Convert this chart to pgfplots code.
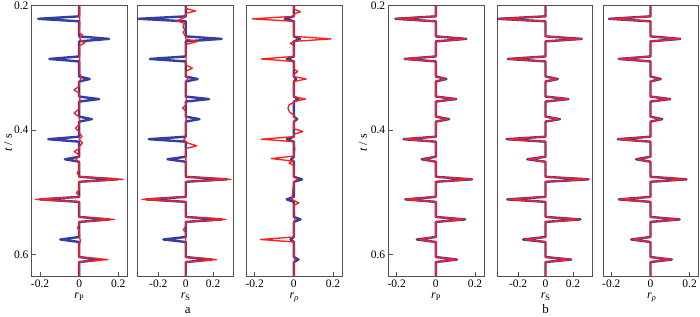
\documentclass[border=0pt]{standalone}
\usepackage{fontspec}
\setmainfont{Liberation Serif}
\usepackage{pgfplots}
\pgfplotsset{compat=1.18}
\definecolor{framegray}{RGB}{80,80,80}
\definecolor{tblue}{RGB}{52,62,160}
\definecolor{ired}{RGB}{255,30,30}
\pgfplotsset{
  panel/.style={scale only axis, width=95.5bp, height=270.7bp, anchor=north west,
    y dir=reverse, ymin=0.2, ymax=0.6345,
    axis line style={draw=framegray, line width=1bp},
    tick align=inside, xtick pos=bottom, ytick pos=left,
    major tick length=4bp, tick style={draw=framegray, line width=0.8bp},
    xtick={-0.2,0,0.2}, xticklabels={-0.2,0,0.2}, ytick=\empty,
    ticklabel style={font=\fontsize{11.5bp}{13bp}\selectfont},
    xticklabel style={yshift=-0.5bp}},
  prr/.style={xmin=-0.241, xmax=0.247},
  ss/.style={xmin=-0.352, xmax=0.345},
  yt/.style={ytick={0.2,0.4,0.6}, yticklabels={0.2,0.4,0.6}},
  trueline/.style={draw=tblue, line width=2.4bp, line join=round, no marks},
  invline/.style={draw=ired, line width=1.35bp, line join=round, no marks},
}
\begin{document}
\begin{tikzpicture}
\useasboundingbox (0,0) rectangle (700bp,-317bp);
% ---------------- group a ----------------
\begin{axis}[panel, prr, yt, at={(32bp,-5.3bp)}]
\addplot[trueline] coordinates {(0,0.2) (0,0.2177) (-0.209,0.2217) (0,0.2257) (0,0.2499) (0.153,0.2539) (0,0.2579) (0,0.2821) (-0.152,0.2861) (0,0.2901) (0,0.3143) (0.054,0.3183) (0,0.3223) (0,0.3465) (0.102,0.3505) (0,0.3545) (0,0.3787) (0.065,0.3827) (0,0.3867) (0,0.4109) (-0.158,0.4149) (0,0.4189) (0,0.4431) (-0.073,0.4471) (0,0.4511) (0,0.4753) (0.195,0.4793) (0,0.4833) (0,0.5075) (-0.200,0.5115) (0,0.5155) (0,0.5397) (0.155,0.5437) (0,0.5477) (0,0.5719) (-0.096,0.5759) (0,0.5799) (0,0.6041) (0.110,0.6081) (0,0.6121) (0,0.6345)};
\addplot[invline] coordinates {(0.002,0.200) (0.003,0.230) (0.000,0.244) (0.017,0.2476) (0.002,0.252) (0.008,0.256) (0.029,0.260) (0.002,0.265) (0.003,0.310) (0.012,0.316) (0.001,0.322) (0.000,0.330) (-0.026,0.3357) (0.000,0.341) (0.004,0.350) (0.000,0.366) (-0.026,0.373) (0.000,0.379) (0.003,0.385) (0.000,0.392) (-0.019,0.397) (0.000,0.403) (0.003,0.406) (0.015,0.4105) (0.000,0.415) (0.017,0.421) (0.000,0.427) (0.000,0.430) (-0.026,0.4346) (0.000,0.440) (-0.017,0.448) (0.000,0.453) (0.000,0.464) (-0.010,0.469) (0.000,0.474) (0,0.4753) (0.225,0.4793) (0,0.4833) (0.000,0.496) (-0.014,0.501) (0.000,0.506) (0,0.5075) (-0.222,0.5115) (0,0.5155) (0.002,0.530) (0,0.5397) (0.180,0.5437) (0,0.5477) (0,0.552) (-0.008,0.557) (0,0.562) (0.003,0.573) (0.006,0.578) (0.000,0.585) (0,0.6041) (0.147,0.6081) (0,0.6121) (0.002,0.6345)};
\end{axis}
\begin{axis}[panel, ss, at={(137.5bp,-5.3bp)}]
\addplot[trueline] coordinates {(0,0.2) (0,0.2177) (-0.344,0.2217) (0,0.2257) (0,0.2499) (0.262,0.2539) (0,0.2579) (0,0.2821) (-0.262,0.2861) (0,0.2901) (0,0.3143) (0.087,0.3183) (0,0.3223) (0,0.3465) (0.170,0.3505) (0,0.3545) (0,0.3787) (0.100,0.3827) (0,0.3867) (0,0.4109) (-0.270,0.4149) (0,0.4189) (0,0.4431) (-0.133,0.4471) (0,0.4511) (0,0.4753) (0.300,0.4793) (0,0.4833) (0,0.5075) (-0.290,0.5115) (0,0.5155) (0,0.5397) (0.265,0.5437) (0,0.5477) (0,0.5719) (-0.163,0.5759) (0,0.5799) (0,0.6041) (0.190,0.6081) (0,0.6121) (0,0.6345)};
\addplot[invline] coordinates {(0,0.200) (0,0.205) (0.073,0.2091) (0,0.213) (0.000,0.219) (-0.065,0.2247) (-0.010,0.229) (-0.020,0.234) (-0.008,0.239) (-0.018,0.244) (0,0.250) (0.000,0.254) (0.080,0.2583) (0,0.263) (0.003,0.296) (0.048,0.301) (0,0.306) (0.002,0.312) (0.020,0.317) (0,0.322) (0.003,0.345) (0.004,0.355) (0,0.360) (-0.022,0.365) (0,0.370) (0.003,0.380) (0,0.412) (-0.015,0.416) (0,0.420) (0.080,0.4255) (0,0.430) (0.002,0.470) (0,0.4753) (0.330,0.4793) (0,0.4833) (0,0.5075) (-0.320,0.5115) (0,0.5155) (0,0.5397) (0.293,0.5437) (0,0.5477) (0,0.555) (-0.017,0.560) (0,0.565) (0,0.6041) (0.225,0.6081) (0,0.6121) (0,0.6345)};
\end{axis}
\begin{axis}[panel, prr, at={(246.7bp,-5.3bp)}]
\addplot[trueline] coordinates {(0,0.2) (0,0.2177) (-0.047,0.2217) (0,0.2257) (0,0.2499) (0.032,0.2539) (0,0.2579) (0,0.2821) (-0.036,0.2861) (0,0.2901) (0,0.3143) (0.012,0.3183) (0,0.3223) (0,0.3465) (0.024,0.3505) (0,0.3545) (0,0.3787) (0.017,0.3827) (0,0.3867) (0,0.4109) (-0.036,0.4149) (0,0.4189) (0,0.4431) (-0.014,0.4471) (0,0.4511) (0,0.4753) (0.042,0.4793) (0,0.4833) (0,0.5075) (-0.036,0.5115) (0,0.5155) (0,0.5397) (0.034,0.5437) (0,0.5477) (0,0.5719) (-0.017,0.5759) (0,0.5799) (0,0.6041) (0.024,0.6081) (0,0.6121) (0,0.6345)};
\addplot[invline] coordinates {(0,0.200) (0,0.206) (0.034,0.2102) (0,0.214) (0,0.2177) (-0.212,0.2217) (0,0.2257) (0,0.2499) (0.190,0.2539) (0,0.2579) (-0.017,0.261) (0,0.265) (0,0.2821) (-0.166,0.2861) (0,0.2901) (0,0.302) (0.020,0.3064) (0,0.311) (0,0.3143) (0.063,0.3183) (0,0.3223) (0,0.3465) (0.059,0.3505) (0,0.3545) (0,0.356) (-0.025,0.360) (-0.030,0.366) (-0.020,0.372) (0,0.376) (0.010,0.3827) (0,0.387) (0,0.398) (0.046,0.4026) (0,0.407) (0,0.4109) (-0.166,0.4149) (0,0.4189) (0.005,0.432) (0,0.436) (0,0.4420) (-0.115,0.4460) (-0.005,0.4500) (-0.025,0.4532) (0,0.457) (0,0.4753) (0.020,0.4793) (0,0.4833) (-0.010,0.5115) (0.025,0.5173) (0,0.5210) (0.005,0.5437) (0,0.548) (0,0.5719) (-0.170,0.5759) (0,0.5799) (0.003,0.6081) (0,0.6345)};
\end{axis}
% ---------------- group b ----------------
\begin{axis}[panel, prr, yt, at={(388.7bp,-5.3bp)}]
\addplot[trueline] coordinates {(0,0.2) (0,0.2177) (-0.207,0.2217) (0,0.2257) (0,0.2499) (0.155,0.2539) (0,0.2579) (0,0.2821) (-0.160,0.2861) (0,0.2901) (0,0.3143) (0.054,0.3183) (0,0.3223) (0,0.3465) (0.104,0.3505) (0,0.3545) (0,0.3787) (0.067,0.3827) (0,0.3867) (0,0.4109) (-0.165,0.4149) (0,0.4189) (0,0.4431) (-0.072,0.4471) (0,0.4511) (0,0.4753) (0.185,0.4793) (0,0.4833) (0,0.5075) (-0.156,0.5115) (0,0.5155) (0,0.5397) (0.150,0.5437) (0,0.5477) (0,0.5719) (-0.097,0.5759) (0,0.5799) (0,0.6041) (0.108,0.6081) (0,0.6121) (0,0.6345)};
\addplot[invline] coordinates {(0,0.2) (0,0.2177) (-0.200,0.2217) (0,0.2257) (0,0.2499) (0.150,0.2539) (0,0.2579) (0,0.2821) (-0.160,0.2861) (0,0.2901) (0,0.3143) (0.046,0.3183) (0,0.3223) (0,0.3465) (0.100,0.3505) (0,0.3545) (0,0.3787) (0.058,0.3827) (0,0.3867) (0,0.4109) (-0.162,0.4149) (0,0.4189) (0,0.4431) (-0.063,0.4471) (0,0.4511) (0,0.4753) (0.185,0.4793) (0,0.4833) (0,0.5075) (-0.158,0.5115) (0,0.5155) (0,0.5397) (0.147,0.5437) (0,0.5477) (0,0.5719) (-0.088,0.5759) (0,0.5799) (0,0.6041) (0.106,0.6081) (0,0.6121) (0,0.6345)};
\end{axis}
\begin{axis}[panel, ss, at={(497.3bp,-5.3bp)}]
\addplot[trueline] coordinates {(0,0.2) (0,0.2177) (-0.348,0.2217) (0,0.2257) (0,0.2499) (0.265,0.2539) (0,0.2579) (0,0.2821) (-0.275,0.2861) (0,0.2901) (0,0.3143) (0.090,0.3183) (0,0.3223) (0,0.3465) (0.167,0.3505) (0,0.3545) (0,0.3787) (0.105,0.3827) (0,0.3867) (0,0.4109) (-0.285,0.4149) (0,0.4189) (0,0.4431) (-0.133,0.4471) (0,0.4511) (0,0.4753) (0.314,0.4793) (0,0.4833) (0,0.5075) (-0.280,0.5115) (0,0.5155) (0,0.5397) (0.255,0.5437) (0,0.5477) (0,0.5719) (-0.164,0.5759) (0,0.5799) (0,0.6041) (0.187,0.6081) (0,0.6121) (0,0.6345)};
\addplot[invline] coordinates {(0,0.2) (0,0.2177) (-0.340,0.2217) (0,0.2257) (0,0.2499) (0.258,0.2539) (0,0.2579) (0,0.2821) (-0.272,0.2861) (0,0.2901) (0,0.3143) (0.080,0.3183) (0,0.3223) (0,0.3465) (0.162,0.3505) (0,0.3545) (0,0.3787) (0.095,0.3827) (0,0.3867) (0,0.4109) (-0.280,0.4149) (0,0.4189) (0,0.4431) (-0.122,0.4471) (0,0.4511) (0,0.4753) (0.312,0.4793) (0,0.4833) (0,0.5075) (-0.275,0.5115) (0,0.5155) (0,0.5397) (0.250,0.5437) (0,0.5477) (0,0.5719) (-0.152,0.5759) (0,0.5799) (0,0.6041) (0.185,0.6081) (0,0.6121) (0,0.6345)};
\end{axis}
\begin{axis}[panel, prr, at={(603.3bp,-5.3bp)}]
\addplot[trueline] coordinates {(0,0.2) (0,0.2177) (-0.212,0.2217) (0,0.2257) (0,0.2499) (0.152,0.2539) (0,0.2579) (0,0.2821) (-0.162,0.2861) (0,0.2901) (0,0.3143) (0.052,0.3183) (0,0.3223) (0,0.3465) (0.101,0.3505) (0,0.3545) (0,0.3787) (0.060,0.3827) (0,0.3867) (0,0.4109) (-0.167,0.4149) (0,0.4189) (0,0.4431) (-0.073,0.4471) (0,0.4511) (0,0.4753) (0.184,0.4793) (0,0.4833) (0,0.5075) (-0.162,0.5115) (0,0.5155) (0,0.5397) (0.149,0.5437) (0,0.5477) (0,0.5719) (-0.098,0.5759) (0,0.5799) (0,0.6041) (0.109,0.6081) (0,0.6121) (0,0.6345)};
\addplot[invline] coordinates {(0,0.2) (0,0.2177) (-0.205,0.2217) (0,0.2257) (0,0.2499) (0.148,0.2539) (0,0.2579) (0,0.2821) (-0.160,0.2861) (0,0.2901) (0,0.3143) (0.045,0.3183) (0,0.3223) (0,0.3465) (0.098,0.3505) (0,0.3545) (0,0.3787) (0.053,0.3827) (0,0.3867) (0,0.4109) (-0.165,0.4149) (0,0.4189) (0,0.4431) (-0.065,0.4471) (0,0.4511) (0,0.4753) (0.182,0.4793) (0,0.4833) (0,0.5075) (-0.160,0.5115) (0,0.5155) (0,0.5397) (0.147,0.5437) (0,0.5477) (0,0.5719) (-0.090,0.5759) (0,0.5799) (0,0.6041) (0.106,0.6081) (0,0.6121) (0,0.6345)};
\end{axis}
% ---------------- labels ----------------
\begin{scope}[every node/.style={font=\fontsize{12bp}{14bp}\selectfont, inner sep=0pt}]
\node[anchor=base] at (79.3bp,-298.5bp) {\textit{r}\textsubscript{P}};
\node[anchor=base] at (185.7bp,-298.5bp) {\textit{r}\textsubscript{S}};
\node[anchor=base] at (294.3bp,-298.5bp) {\textit{r}\textsubscript{\textit{ρ}}};
\node[anchor=base] at (436bp,-298.5bp) {\textit{r}\textsubscript{P}};
\node[anchor=base] at (545.7bp,-298.5bp) {\textit{r}\textsubscript{S}};
\node[anchor=base] at (651.7bp,-298.5bp) {\textit{r}\textsubscript{\textit{ρ}}};
\node[rotate=90] at (8bp,-143bp) {\textit{t} / s};
\node[rotate=90] at (363bp,-143bp) {\textit{t} / s};
\end{scope}
\node[anchor=base, inner sep=0pt, font=\fontsize{13bp}{15bp}\selectfont] at (187.7bp,-313bp) {a};
\node[anchor=base, inner sep=0pt, font=\fontsize{13bp}{15bp}\selectfont] at (545.7bp,-313bp) {b};
\end{tikzpicture}
\end{document}
